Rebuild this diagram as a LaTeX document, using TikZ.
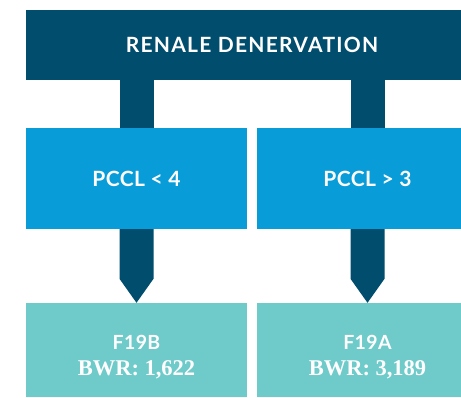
\documentclass[tikz,border=0pt]{standalone}
\usepackage{fontspec}
\setmainfont{Lato}
\newfontfamily\numfont{Liberation Serif}
\definecolor{navy}{HTML}{004D6D}
\definecolor{midblue}{HTML}{089CD8}
\definecolor{teal}{HTML}{6FCACA}
\begin{document}
\begin{tikzpicture}[x=1pt,y=-1pt,
  box/.style={rectangle,inner sep=0pt,text=white,align=center,font=\bfseries},
  headbox/.style={box,fill=navy,minimum width=452pt,minimum height=70pt,
    font=\bfseries\fontsize{21}{24}\selectfont\addfontfeature{LetterSpace=6}},
  condbox/.style={box,fill=midblue,minimum width=221pt,minimum height=101pt,
    font=\bfseries\fontsize{21}{24}\selectfont\addfontfeature{LetterSpace=2}},
  drgbox/.style={box,fill=teal,minimum width=221pt,minimum height=94pt},
  drgname/.style={inner sep=0pt,text=white,anchor=base,
    font=\bfseries\fontsize{19.5}{22}\selectfont\addfontfeature{LetterSpace=2}},
  drgweight/.style={inner sep=0pt,text=white,anchor=base,
    font=\numfont\bfseries\fontsize{22.5}{26}\selectfont},
  stem/.style={fill=navy}]
\useasboundingbox (0,0) rectangle (461,397);
\clip (0,0) rectangle (461,397);
\node[headbox] (top) at (252,45) {RENALE DENERVATION};
\node[condbox] (pl) at (136.5,178.5) {PCCL < 4};
\node[condbox] (pr) at (367.5,178.5) {PCCL > 3};
\node[drgbox] (fl) at (136.5,350) {};
\node[drgbox] (fr) at (367.5,350) {};
\node[drgname] (fln) at (136.5,349.5) {F19B};
\node[drgweight] (flw) at (136.5,375) {BWR: 1,622};
\node[drgname] (frn) at (367.5,349.5) {F19A};
\node[drgweight] (frw) at (367.5,375) {BWR: 3,189};
% stems from the header to the conditions
\fill[stem] ([xshift=-17pt]pl.north |- top.south) rectangle ([xshift=17pt]pl.north);
\fill[stem] ([xshift=-17pt]pr.north |- top.south) rectangle ([xshift=17pt]pr.north);
% arrows from the conditions to the groups
\foreach \a/\b in {pl/fl,pr/fr}{
  \fill[stem] ([xshift=-17pt]\a.south) -- ([xshift=-17pt,yshift=24pt]\b.north)
    -- (\b.north) -- ([xshift=17pt,yshift=24pt]\b.north) -- ([xshift=17pt]\a.south) -- cycle;
}
\end{tikzpicture}
\end{document}
